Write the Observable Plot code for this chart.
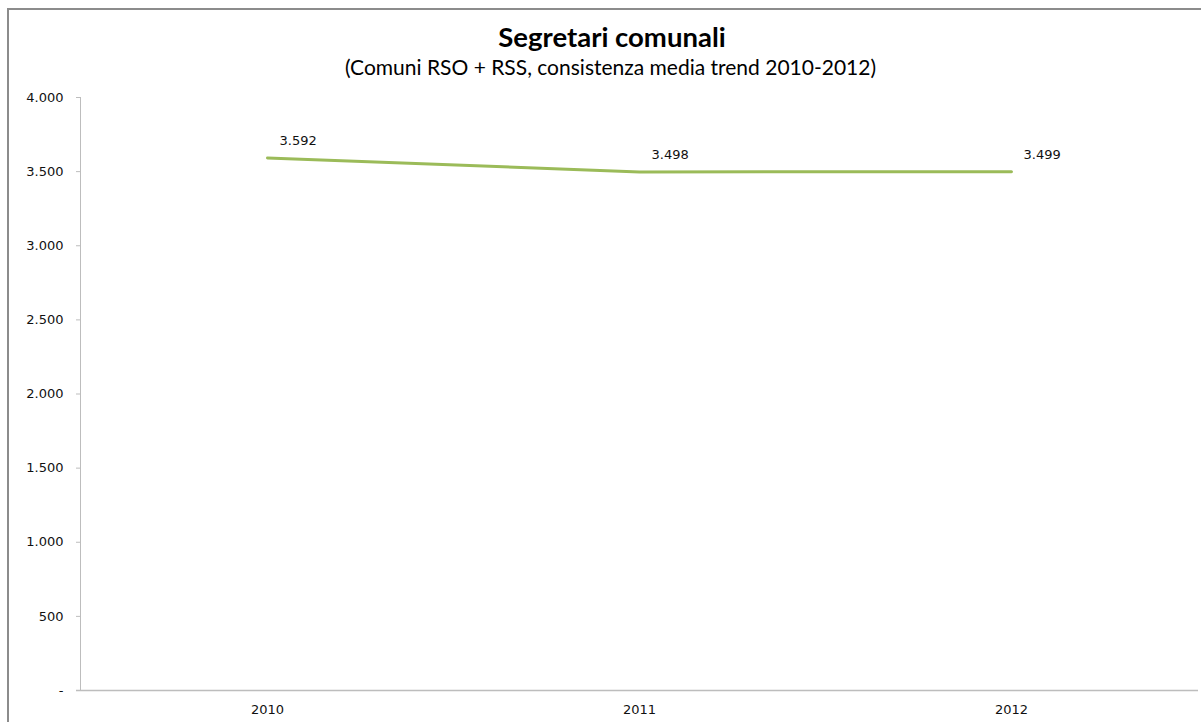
<!DOCTYPE html>
<html>
<head>
<meta charset="utf-8">
<script src="https://cdn.jsdelivr.net/npm/d3@7"></script>
<script src="https://cdn.jsdelivr.net/npm/@observablehq/plot@0.6"></script>
<style>
  html, body { margin: 0; padding: 0; background: #fff; }
  body { width: 1201px; height: 722px; overflow: hidden; position: relative; }
  #frame { position: absolute; left: 7px; top: 8px; width: 1194px; height: 714px;
           border-left: 2px solid #8c8c8c; border-top: 2px solid #8c8c8c; }
  #titles { position: absolute; left: 0; top: 0; width: 1201px; height: 85px; text-align: center; }
  #title { position: absolute; left: 0; width: 1224px; top: 21px; font-family: Lato, "Open Sans", sans-serif;
           font-weight: bold; font-size: 27.5px; color: #000; line-height: 32px; }
  #subtitle { position: absolute; left: 0; width: 1221px; top: 55px; font-family: Lato, "Open Sans", sans-serif;
              font-size: 21px; color: #000; line-height: 24px; }
  #chart { position: absolute; left: 0; top: 85px; }
</style>
</head>
<body>
<div id="frame"></div>
<div id="titles">
  <div id="title">Segretari comunali</div>
  <div id="subtitle">(Comuni RSO + RSS, consistenza media trend 2010-2012)</div>
</div>
<div id="chart"></div>
<script>
const years = ["2010", "2011", "2012"];
const values = [3592, 3498, 3499];
const yTicks = [0, 500, 1000, 1500, 2000, 2500, 3000, 3500, 4000];

const data = years.map((y, i) => ({year: y, value: values[i]}));
const fmt = d => d === 0 ? "-" : d3.format(",")(d).replace(/,/g, ".");

const chart = Plot.plot({
  width: 1201,
  height: 637,
  marginLeft: 80,
  marginRight: 3,
  marginTop: 12,
  marginBottom: 32,
  style: {fontFamily: "'DejaVu Sans', sans-serif", fontSize: "13px", color: "#111", background: "transparent"},
  x: {type: "band", domain: years, padding: 0, label: null},
  y: {domain: [0, 4000], label: null},
  marks: [
    Plot.frame({anchor: "left", stroke: "#bdbdbd", strokeOpacity: 1}),
    Plot.ruleY([0], {stroke: "#bdbdbd", strokeWidth: 1.5, insetLeft: -4}),
    Plot.axisY({ticks: yTicks, tickFormat: fmt, tickSize: 4, tickPadding: 13, stroke: "#bdbdbd", label: null, fontSize: 13}),
    Plot.axisX({tickSize: 0, tickPadding: 14, label: null, fontSize: 13}),
    Plot.line(data, {x: "year", y: "value", stroke: "#9bbb59", strokeWidth: 3}),
    Plot.text(data, {x: "year", y: "value", text: d => fmt(d.value), textAnchor: "start", dx: 12, dy: -17, fill: "#111", fontSize: 13})
  ]
});
document.getElementById("chart").appendChild(chart);
</script>
</body>
</html>
